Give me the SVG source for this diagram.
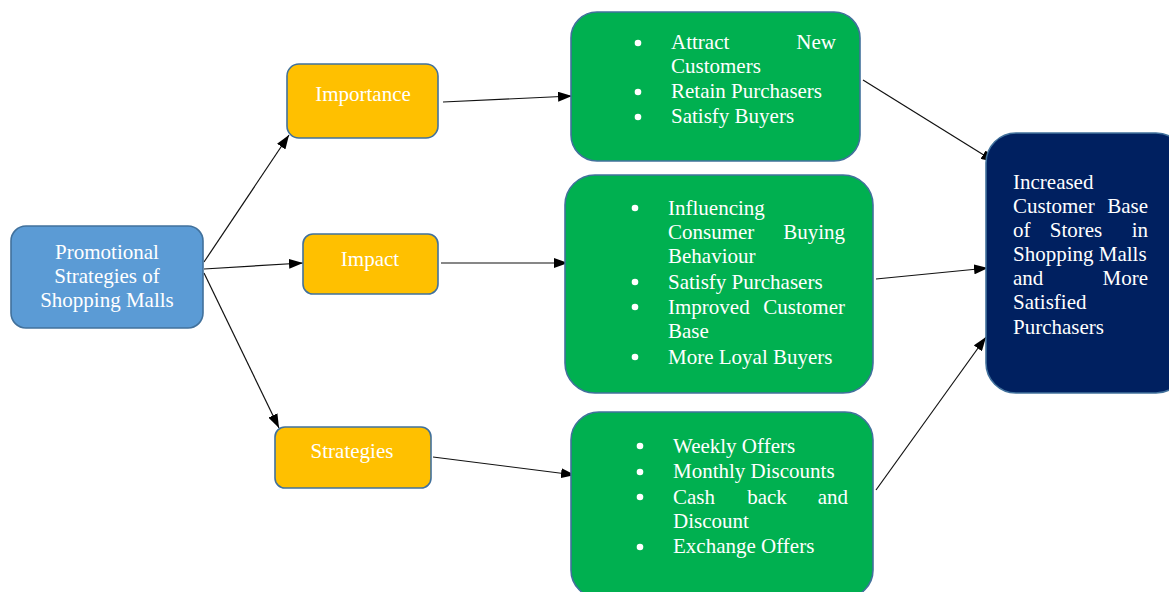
<svg xmlns="http://www.w3.org/2000/svg" width="1169" height="592" viewBox="0 0 1169 592">
<style>
text{font-family:"Liberation Serif","Times New Roman",serif;font-size:21px;fill:#ffffff}
.c{text-anchor:middle}
.e{text-anchor:end}
.blue{fill:#5B9BD5;stroke:#41719C;stroke-width:1.6}
.gold{fill:#FFC000;stroke:#41719C;stroke-width:1.6}
.green{fill:#00B050;stroke:#41719C;stroke-width:1.6}
.navy{fill:#002060;stroke:#41719C;stroke-width:1.6}
.con line{stroke:#111;stroke-width:1.2;marker-end:url(#ah)}
.dot{fill:#fff}
</style>
<defs>
<marker id="ah" viewBox="0 0 14 10" refX="14" refY="5" markerWidth="14" markerHeight="10" markerUnits="userSpaceOnUse" orient="auto">
<path d="M0,0 L14,5 L0,10 z" fill="#000"/>
</marker>
</defs>
<rect width="1169" height="592" fill="#fff"/>
<g id="connectors" class="con">
<line x1="204" y1="262" x2="289" y2="135"/>
<line x1="204" y1="269" x2="303" y2="263"/>
<line x1="204" y1="273" x2="279" y2="428"/>
<line x1="443" y1="102" x2="572" y2="96"/>
<line x1="441" y1="263" x2="568" y2="263"/>
<line x1="433" y1="457" x2="575" y2="475"/>
<line x1="863" y1="80" x2="995" y2="162"/>
<line x1="876" y1="279" x2="988" y2="268"/>
<line x1="876" y1="490" x2="986" y2="337"/>
</g>
<g id="promo">
<rect class="blue" x="11" y="226" width="192" height="102" rx="15"/>
<text class="c" x="107" y="259">Promotional</text>
<text class="c" x="107" y="283">Strategies of</text>
<text class="c" x="107" y="307">Shopping Malls</text>
</g>
<g id="importance">
<rect class="gold" x="287" y="64" width="151" height="74" rx="12"/>
<text class="c" x="363" y="101">Importance</text>
</g>
<g id="impact">
<rect class="gold" x="303" y="234" width="135" height="60" rx="10"/>
<text class="c" x="370" y="266">Impact</text>
</g>
<g id="strategies">
<rect class="gold" x="275" y="427" width="156" height="61" rx="10"/>
<text class="c" x="352" y="458">Strategies</text>
</g>
<g id="benefits">
<rect class="green" x="571" y="12" width="289" height="149" rx="26"/>
<circle class="dot" cx="638" cy="43" r="3.3"/>
<circle class="dot" cx="638" cy="92" r="3.3"/>
<circle class="dot" cx="638" cy="117" r="3.3"/>
<text x="671" y="49">Attract</text><text class="e" x="836" y="49">New</text>
<text x="671" y="73">Customers</text>
<text x="671" y="98">Retain Purchasers</text>
<text x="671" y="123">Satisfy Buyers</text>
</g>
<g id="impacts">
<rect class="green" x="565" y="175" width="308" height="218" rx="30"/>
<circle class="dot" cx="635" cy="208" r="3.3"/>
<circle class="dot" cx="635" cy="282" r="3.3"/>
<circle class="dot" cx="635" cy="307" r="3.3"/>
<circle class="dot" cx="635" cy="357" r="3.3"/>
<text x="668" y="215">Influencing</text>
<text x="668" y="239">Consumer</text><text class="e" x="845" y="239">Buying</text>
<text x="668" y="263">Behaviour</text>
<text x="668" y="289">Satisfy Purchasers</text>
<text x="668" y="314">Improved</text><text class="e" x="845" y="314">Customer</text>
<text x="668" y="338">Base</text>
<text x="668" y="364">More Loyal Buyers</text>
</g>
<g id="strategy-list">
<rect class="green" x="571" y="412" width="302" height="186" rx="28"/>
<circle class="dot" cx="640" cy="446" r="3.3"/>
<circle class="dot" cx="640" cy="472" r="3.3"/>
<circle class="dot" cx="640" cy="497" r="3.3"/>
<circle class="dot" cx="640" cy="547" r="3.3"/>
<text x="673" y="453">Weekly Offers</text>
<text x="673" y="478">Monthly Discounts</text>
<text x="673" y="504">Cash</text><text class="c" x="767" y="504">back</text><text class="e" x="848" y="504">and</text>
<text x="673" y="528">Discount</text>
<text x="673" y="553">Exchange Offers</text>
</g>
<g id="outcome">
<rect class="navy" x="986" y="133" width="200" height="260" rx="30"/>
<text x="1013" y="189">Increased</text>
<text x="1013" y="213">Customer</text><text class="e" x="1148" y="213">Base</text>
<text x="1013" y="237">of</text><text class="c" x="1076" y="237">Stores</text><text class="e" x="1148" y="237">in</text>
<text x="1013" y="261">Shopping Malls</text>
<text x="1013" y="285">and</text><text class="e" x="1148" y="285">More</text>
<text x="1013" y="309">Satisfied</text>
<text x="1013" y="334">Purchasers</text>
</g>
</svg>
